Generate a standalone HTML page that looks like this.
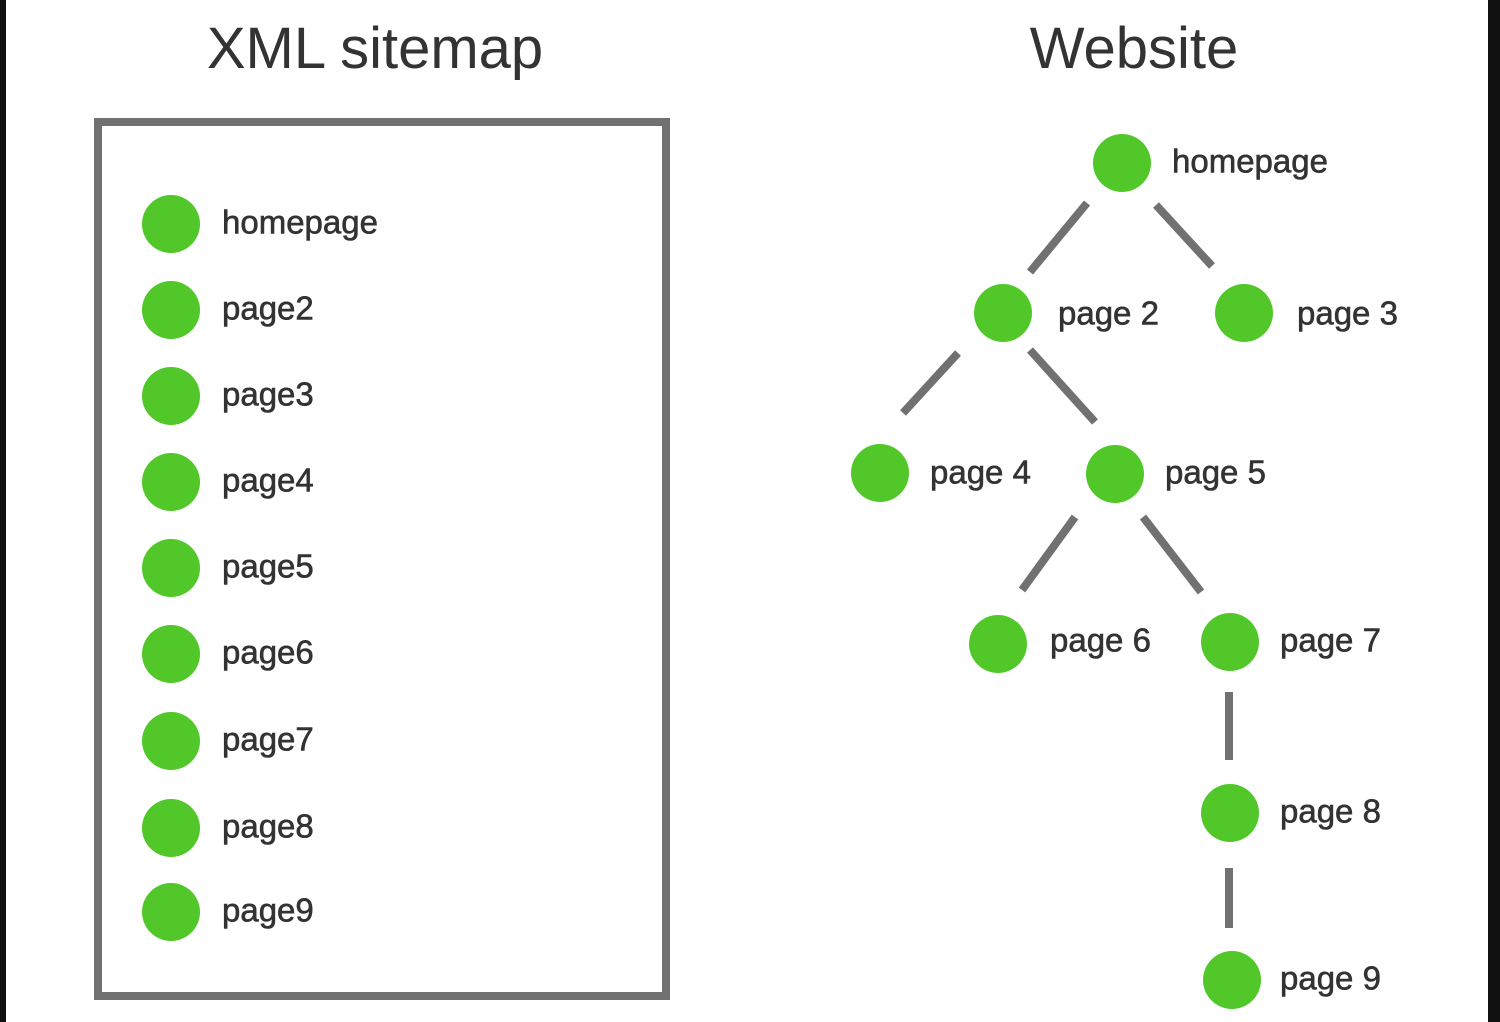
<!DOCTYPE html>
<html><head><style>body{margin:0}</style></head><body>
<svg width="1500" height="1022" xmlns="http://www.w3.org/2000/svg" style="display:block">
<rect width="1500" height="1022" fill="#fff"/>
<rect x="0" y="0" width="6" height="1022" fill="#111"/>
<rect x="1488" y="0" width="12" height="1022" fill="#111"/>
<g font-family="Liberation Sans, sans-serif" fill="#333">
<text x="375" y="68" font-size="58" text-anchor="middle">XML sitemap</text>
<text x="1134" y="68" font-size="58" text-anchor="middle">Website</text>
</g>
<rect x="98" y="122" width="568" height="874" fill="none" stroke="#717171" stroke-width="8"/>
<g fill="#52c72a">
<circle cx="171" cy="224" r="29"/><circle cx="171" cy="310" r="29"/><circle cx="171" cy="396" r="29"/>
<circle cx="171" cy="482" r="29"/><circle cx="171" cy="568" r="29"/><circle cx="171" cy="654" r="29"/>
<circle cx="171" cy="741" r="29"/><circle cx="171" cy="828" r="29"/><circle cx="171" cy="912" r="29"/>
<circle cx="1122" cy="163" r="29"/><circle cx="1003" cy="313" r="29"/><circle cx="1244" cy="313" r="29"/>
<circle cx="880" cy="473" r="29"/><circle cx="1115" cy="474" r="29"/><circle cx="998" cy="644" r="29"/>
<circle cx="1230" cy="642" r="29"/><circle cx="1230" cy="813" r="29"/><circle cx="1232" cy="980" r="29"/>
</g>
<g stroke="#717171" stroke-width="8">
<line x1="1087" y1="203" x2="1030" y2="272"/><line x1="1156" y1="205" x2="1212" y2="266"/>
<line x1="958" y1="353" x2="903" y2="413"/><line x1="1030" y1="350" x2="1095" y2="422"/>
<line x1="1075" y1="517" x2="1022" y2="590"/><line x1="1143" y1="517" x2="1201" y2="592"/>
<line x1="1229" y1="692" x2="1229" y2="760"/><line x1="1229" y1="868" x2="1229" y2="928"/>
</g>
<g font-family="Liberation Sans, sans-serif" font-size="33" fill="#333" stroke="#333" stroke-width="0.6" dominant-baseline="central">
<text x="222" y="222">homepage</text><text x="222" y="308">page2</text><text x="222" y="394">page3</text>
<text x="222" y="480">page4</text><text x="222" y="566">page5</text><text x="222" y="652">page6</text>
<text x="222" y="739">page7</text><text x="222" y="826">page8</text><text x="222" y="910">page9</text>
<text x="1172" y="161">homepage</text><text x="1058" y="313">page 2</text><text x="1297" y="313">page 3</text>
<text x="930" y="472">page 4</text><text x="1165" y="472">page 5</text><text x="1050" y="640">page 6</text>
<text x="1280" y="640">page 7</text><text x="1280" y="811">page 8</text><text x="1280" y="978">page 9</text>
</g>
</svg>
</body></html>
